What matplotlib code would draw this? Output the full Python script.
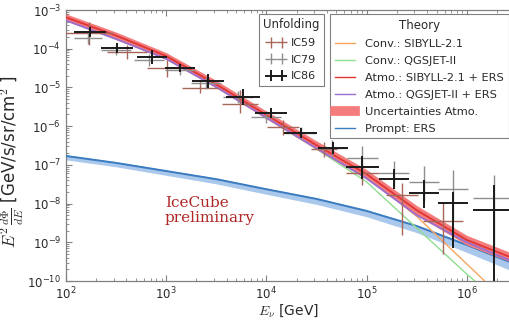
import numpy as np
import matplotlib
matplotlib.use("Agg")
import matplotlib.pyplot as plt
from matplotlib.lines import Line2D

# ---------------- data ----------------
# theory curves, sampled at these energies [GeV]
theory_E = [1e2, 3.16e2, 1e3, 3.16e3, 1e4, 3.16e4, 1e5, 3.16e5, 1e6, 2.7e6]
# log10 of E^2 dPhi/dE
conv_sibyll_log = [-3.19, -3.67, -4.19, -4.92, -5.72, -6.52, -7.30, -8.33, -9.56, -10.62]
conv_qgsjet_log = [-3.27, -3.75, -4.26, -4.99, -5.79, -6.59, -7.44, -8.63, -9.82, -10.80]
atmo_sibyll_log = [-3.19, -3.66, -4.19, -4.92, -5.71, -6.49, -7.24, -8.17, -8.94, -9.38]
atmo_qgsjet_log = [-3.27, -3.75, -4.26, -4.99, -5.78, -6.57, -7.35, -8.30, -9.00, -9.47]
atmo_band_hi_log = [-3.10, -3.57, -4.10, -4.82, -5.61, -6.38, -7.12, -8.05, -8.82, -9.26]
atmo_band_lo_log = [-3.28, -3.76, -4.28, -5.01, -5.81, -6.60, -7.37, -8.30, -9.07, -9.50]
prompt_log = [-6.77, -6.95, -7.16, -7.37, -7.63, -7.88, -8.19, -8.58, -9.07, -9.51]
prompt_hi_log = [-6.74, -6.92, -7.13, -7.34, -7.60, -7.85, -8.16, -8.55, -9.03, -9.46]
prompt_lo_log = [-6.87, -7.05, -7.27, -7.49, -7.76, -8.02, -8.34, -8.75, -9.26, -9.72]

# unfolded data points
ic59_E = [170, 407, 1020, 2190, 5500, 14500, 37500, 91000, 2.24e5, 5.75e5]
ic59_log = [-3.59, -4.09, -4.50, -5.02, -5.43, -6.02, -6.59, -7.21, -7.78, -8.45]
ic59_up = [0.28, 0.18, 0.21, 0.20, 0.36, 0.18, 0.18, 0.10, 0.31, 0.49]
ic59_dn = [0.31, 0.18, 0.23, 0.13, 0.23, 0.20, 0.20, 0.30, 1.03, 0.85]
ic59_xw = [0.24, 0.20, 0.20, 0.18, 0.18, 0.16, 0.13, 0.16, 0.16, 0.20]

ic79_E = [166, 316, 676, 1380, 2510, 5250, 10000, 21900, 44700, 91000, 186000, 372000, 728000, 1.86e6]
ic79_log = [-3.72, -4.03, -4.29, -4.55, -4.89, -5.25, -5.77, -6.18, -6.57, -6.82, -7.21, -7.44, -7.63, -7.86]
ic79_up = [0.15, 0.12, 0.15, 0.12, 0.15, 0.15, 0.15, 0.15, 0.20, 0.30, 0.30, 0.40, 0.50, 0.60]
ic79_dn = [0.15, 0.12, 0.15, 0.12, 0.15, 0.15, 0.15, 0.15, 0.20, 0.30, 0.35, 0.50, 0.80, 1.20]
ic79_xw = [0.14, 0.15, 0.15, 0.15, 0.15, 0.15, 0.15, 0.15, 0.15, 0.15, 0.15, 0.15, 0.15, 0.21]

ic86_E = [174, 324, 724, 1380, 2630, 5900, 11000, 21900, 46700, 91000, 186000, 372000, 728000, 1.86e6]
ic86_log = [-3.57, -3.98, -4.21, -4.50, -4.83, -5.25, -5.66, -6.18, -6.57, -7.06, -7.37, -7.73, -7.99, -8.17]
ic86_up = [0.13, 0.12, 0.18, 0.10, 0.18, 0.20, 0.13, 0.13, 0.15, 0.30, 0.26, 0.33, 0.30, 0.65]
ic86_dn = [0.13, 0.12, 0.18, 0.10, 0.18, 0.20, 0.13, 0.13, 0.15, 0.30, 0.26, 0.39, 1.16, 2.50]
ic86_xw = [0.16, 0.16, 0.15, 0.15, 0.16, 0.17, 0.16, 0.16, 0.15, 0.16, 0.15, 0.15, 0.15, 0.21]

# ---------------- plotting ----------------
TXT = "#2a2a2a"
fig = plt.figure(figsize=(5.10, 3.23), dpi=100)
ax = fig.add_axes([66/510, 42/323, 1 - 66/510, 271/323])

E = np.array(theory_E)
p = lambda a: 10**np.array(a)

ax.fill_between(E, p(prompt_lo_log), p(prompt_hi_log), color="#a9c8ec", lw=0, zorder=2)
ax.plot(E, p(prompt_log), color="#3b7cc0", lw=1.4, zorder=3)
ax.plot(E, p(conv_sibyll_log), color="#f7a65c", lw=1.0, zorder=3)
ax.plot(E, p(conv_qgsjet_log), color="#8fde8f", lw=1.0, zorder=3)
ax.fill_between(E, p(atmo_band_lo_log), p(atmo_band_hi_log), color="#f47c7c", lw=0, zorder=4)
ax.plot(E, p(atmo_qgsjet_log), color="#9a6fd0", lw=1.3, zorder=5)
ax.plot(E, p(atmo_sibyll_log), color="#e03535", lw=1.3, zorder=5)


def ebar(Es, logs, up, dn, xw, color, lw, label, z):
    Es = np.array(Es, float)
    F = p(logs)
    yerr = [F * (1 - 10**(-np.array(dn))), F * (10**np.array(up) - 1)]
    xerr = [Es * (1 - 10**(-np.array(xw))), Es * (10**np.array(xw) - 1)]
    return ax.errorbar(Es, F, yerr=yerr, xerr=xerr, fmt="none", ecolor=color,
                       elinewidth=lw, capsize=0, label=label, zorder=z)


h59 = ebar(ic59_E, ic59_log, ic59_up, ic59_dn, ic59_xw, "#a8665a", 1.0, "IC59", 6)
h79 = ebar(ic79_E, ic79_log, ic79_up, ic79_dn, ic79_xw, "#8e8e8e", 1.0, "IC79", 7)
h86 = ebar(ic86_E, ic86_log, ic86_up, ic86_dn, ic86_xw, "#1a1a1a", 1.4, "IC86", 8)

ax.set_xscale("log")
ax.set_yscale("log")
ax.set_xlim(1e2, 2.7e6)
ax.set_ylim(1e-10, 1e-3)

for s in ax.spines.values():
    s.set_color("#808080")
    s.set_linewidth(0.9)
ax.spines["right"].set_visible(False)
ax.tick_params(which="both", direction="in", top=True, right=False, colors="#808080",
               labelcolor=TXT, labelsize=8.5)
ax.tick_params(which="major", length=4)
ax.tick_params(which="minor", length=2)

ax.set_xlabel(r"$E_\nu$ [GeV]", fontsize=10, color=TXT, labelpad=0, math_fontfamily="cm")
ax.set_ylabel(r"$E^2\,\frac{d\Phi}{dE}$ [GeV/s/sr/cm$^2$ ]", fontsize=12, color=TXT,
              math_fontfamily="cm")
ax.yaxis.set_label_coords(-0.09, 0.44)

fig.text(165/510, 1 - 222/323, "IceCube\npreliminary", family="DejaVu Serif",
         fontsize=11, color="#b02828", ha="left", va="baseline", linespacing=1.05)

leg1 = ax.legend(handles=[h59, h79, h86], title="Unfolding", loc="upper left",
                 bbox_to_anchor=(259/510, 1 - 14/323), bbox_transform=fig.transFigure,
                 borderaxespad=0,
                 fontsize=8, title_fontsize=8.5, numpoints=2, handlelength=1.6,
                 handletextpad=0.5, borderpad=0.4, labelspacing=0.6,
                 fancybox=False, edgecolor="#808080", framealpha=1, labelcolor=TXT)
leg1.get_title().set_color(TXT)
leg1.get_frame().set_linewidth(0.8)
ax.add_artist(leg1)

th_handles = [
    Line2D([], [], color="#f7a65c", lw=1.0),
    Line2D([], [], color="#8fde8f", lw=1.0),
    Line2D([], [], color="#e03535", lw=1.0),
    Line2D([], [], color="#9a6fd0", lw=1.0),
    Line2D([], [], color="#f47c7c", lw=7),
    Line2D([], [], color="#3b7cc0", lw=1.0),
]
th_labels = ["Conv.: SIBYLL-2.1", "Conv.: QGSJET-II", "Atmo.: SIBYLL-2.1 + ERS",
             "Atmo.: QGSJET-II + ERS", "Uncertainties Atmo.", "Prompt: ERS"]
leg2 = ax.legend(th_handles, th_labels, title="Theory", loc="upper left",
                 bbox_to_anchor=(330/510, 1 - 14/323), bbox_transform=fig.transFigure,
                 borderaxespad=0,
                 fontsize=8.2, title_fontsize=8.5, handlelength=1.8,
                 handletextpad=0.9, borderpad=0.4, labelspacing=0.62,
                 fancybox=False, edgecolor="#808080", framealpha=1, labelcolor=TXT)
leg2.get_title().set_color(TXT)
leg2.get_frame().set_linewidth(0.8)

fig.savefig("out.png", dpi=100)
